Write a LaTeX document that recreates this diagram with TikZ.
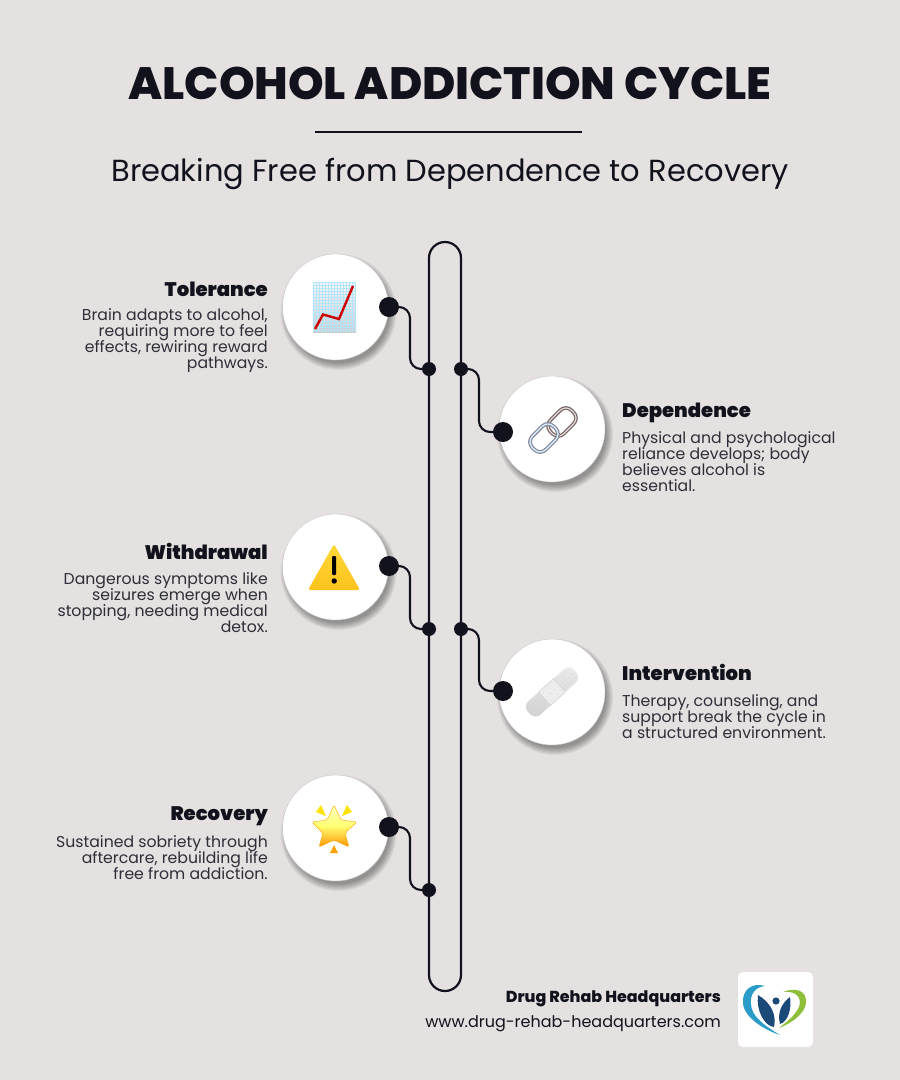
\documentclass[tikz,border=0pt]{standalone}
\usepackage{fontspec}
\setmainfont{Poppins}
\newfontfamily\fblack{Poppins}[UprightFont=* Black]
\newfontfamily\fxbold{Poppins}[UprightFont=* ExtraBold]
\usetikzlibrary{calc}
\definecolor{bgc}{HTML}{E5E1E1}
\definecolor{ink}{HTML}{12121C}
\definecolor{bodyc}{HTML}{2E2E38}
\definecolor{logob}{HTML}{2A9CC8}
\definecolor{logog}{HTML}{8DBF3A}
\definecolor{logon}{HTML}{1B4A78}
\definecolor{warnt}{HTML}{FFD83B}
\definecolor{warnb}{HTML}{FCC21B}
\tikzset{
  headtxt/.style={inner sep=0,font=\fblack\fontsize{19.6}{20}\selectfont,text=ink},
  bodyl/.style={inner sep=0,align=right,anchor=base east,font=\fontsize{15.7}{16}\selectfont,text=bodyc,execute at begin node={\lineskiplimit=-20pt\relax}},
  bodyr/.style={inner sep=0,align=left,anchor=base west,font=\fontsize{15.7}{16}\selectfont,text=bodyc,execute at begin node={\lineskiplimit=-20pt\relax}},
  disc/.style={circle,fill=white,minimum size=106pt,inner sep=0,draw=black!22,line width=.4pt},
  bigdot/.style={circle,fill=ink,minimum size=20pt,inner sep=0},
  smalldot/.style={circle,fill=ink,minimum size=14pt,inner sep=0},
  link/.style={draw=ink,line width=2.1pt,rounded corners=11pt},
}
\newcommand{\softshadow}[2]{%
  \foreach \r in {58,57,56,55,54,53,52,51}{\fill[black,opacity=.05] (#1+3,#2+5) circle (\r);}}
\begin{document}
\begin{tikzpicture}[x=1pt,y=-1pt]
\useasboundingbox (0,0) rectangle (900,1080);
\fill[bgc] (0,0) rectangle (900,1080);
% title
\node[inner sep=0,anchor=base,text=ink,font=\fxbold\fontsize{45.3}{46}\selectfont] (title) at (450,99) {ALCOHOL ADDICTION CYCLE};
\coordinate (ruleA) at (315,132); \coordinate (ruleB) at (582,132);
\draw[ink,line width=2pt] (ruleA) -- (ruleB);
\node[inner sep=0,anchor=base,text=ink,font=\fontsize{30.5}{32}\selectfont] (subtitle) at (450,181) {Breaking Free from Dependence to Recovery};
% shadows and discs
\softshadow{335.5}{307}\softshadow{552}{429}\softshadow{335.5}{567}\softshadow{552}{692}\softshadow{335.5}{828}
\node[disc] (c1) at (335.5,307) {};
\node[disc] (c2) at (552,429) {};
\node[disc] (c3) at (335.5,567) {};
\node[disc] (c4) at (552,692) {};
\node[disc] (c5) at (335.5,828) {};
% loop
\draw[ink,line width=2.2pt,rounded corners=16pt] (429,242) rectangle (461,991);
% dots
\node[bigdot] (b1) at (389,307) {};
\node[bigdot] (b2) at (503,432) {};
\node[bigdot] (b3) at (389,566) {};
\node[bigdot] (b4) at (503,691) {};
\node[bigdot] (b5) at (389,827) {};
\node[smalldot] (s1) at (429,369) {};
\node[smalldot] (s2) at (461,369) {};
\node[smalldot] (s3) at (429,629) {};
\node[smalldot] (s4) at (461,629) {};
\node[smalldot] (s5) at (429,890) {};
% connectors
\draw[link] (b1.center) -| (410,369) -- (s1.center);
\draw[link] (s2.center) -| (479,432) -- (b2.center);
\draw[link] (b3.center) -| (410,629) -- (s3.center);
\draw[link] (s4.center) -| (479,691) -- (b4.center);
\draw[link] (b5.center) -| (410,890) -- (s5.center);
% chart icon
\shade[top color=blue!3!white,bottom color=blue!6!black!20] (313,282) rectangle (356,332);
\foreach \i in {0,3,...,42}{\draw[cyan!30!white,line width=.15pt] (313+\i,282) -- (313+\i,332);}
\foreach \i in {0,3,...,48}{\draw[cyan!30!white,line width=.15pt] (313,282+\i) -- (356,282+\i);}
\draw[red!80!black,line width=2.4pt,line join=miter] (315,329) -- (323,314.5) -- (339,319) -- (353,286);
% chain icon
\foreach \cx/\cy/\oc/\hc in {562/422/{red!20!black!65}/{black!12},544/438/{blue!25!black!45}/{white!85!cyan}}{
  \begin{scope}[shift={(\cx pt,-\cy pt)},rotate=45]
    \draw[black!45,line width=3.8pt,rounded corners=8pt] (-15,-9.5) rectangle (15,9.5);
    \draw[\oc,line width=2.8pt,rounded corners=8pt] (-15,-9.5) rectangle (15,9.5);
    \draw[\hc,line width=1.2pt,rounded corners=8pt] (-15,-9.5) rectangle (15,9.5);
  \end{scope}}
% warning icon
\shade[top color=warnt,bottom color=warnb,rounded corners=2.5pt] (334,544) -- (360,590) -- (308,590) -- cycle;
\fill[black,rounded corners=1pt] (332.2,556) rectangle (336.2,575);
\fill[black] (334.2,581) circle (2.7);
% bandage icon
\begin{scope}[shift={(552pt,-692pt)},rotate=42]
  \shade[top color=black!8,bottom color=black!18,rounded corners=7pt] (-31,-9) rectangle (31,9);
  \fill[black!7] (-10,-9) rectangle (10,9);
  \draw[black!20,line width=.4pt] (-10,-9) rectangle (10,9);
  \foreach \i in {-26,-22,-18,-14,14,18,22,26,-7,-2,3,8}{\foreach \j in {-5,0,5}{\fill[black!25] (\i,\j) circle (.4);}}
\end{scope}
% star icon
\shade[top color=yellow!25!white,bottom color=orange!85!yellow,middle color=yellow!55!white,rounded corners=2pt,draw=orange!70!yellow,line width=.4pt]
  (334,805) -- (341,820) -- (357,822) -- (345,833) -- (349,847) -- (334,840) -- (319,847) -- (323,833) -- (312,822) -- (327,820) -- cycle;
\fill[yellow!85!orange] (316,812) -- (321,805) -- (326,816) -- cycle;
\fill[yellow!85!orange] (352,812) -- (347,805) -- (342,816) -- cycle;
\fill[orange!75!yellow] (334,845) -- (338,853) -- (330,853) -- cycle;
% texts
\node[headtxt,anchor=base east] (t1) at (268,296) {Tolerance};
\node[bodyl] (d1) at (268,368) {Brain adapts to alcohol,\\requiring more to feel\\effects, rewiring reward\\pathways.};
\node[headtxt,anchor=base west] (t2) at (622,417) {Dependence};
\node[bodyr] (d2) at (622,491) {Physical and psychological\\reliance develops; body\\believes alcohol is\\essential.};
\node[headtxt,anchor=base east] (t3) at (268,559) {Withdrawal};
\node[bodyl] (d3) at (268,632) {Dangerous symptoms like\\seizures emerge when\\stopping, needing medical\\detox.};
\node[headtxt,anchor=base west] (t4) at (622,680) {Intervention};
\node[bodyr] (d4) at (622,738) {Therapy, counseling, and\\support break the cycle in\\a structured environment.};
\node[headtxt,anchor=base east] (t5) at (268,820) {Recovery};
\node[bodyl] (d5) at (268,879) {Sustained sobriety through\\aftercare, rebuilding life\\free from addiction.};
% footer
\node[inner sep=0,anchor=base east,text=ink,font=\fxbold\fontsize{15.9}{16}\selectfont] (f1) at (721,1002) {Drug Rehab Headquarters};
\node[inner sep=0,anchor=base east,text=ink,font=\fontsize{16}{16}\selectfont] (f2) at (721,1027) {www.drug-rehab-headquarters.com};
% logo
\fill[white,rounded corners=5pt] (738,972) rectangle (813,1047);
\fill[logob] (765,986) .. controls (752,982) and (742,990) .. (743,1003) .. controls (744,1018) and (765,1030) .. (780,1035) .. controls (765,1026) and (751,1016) .. (751,1004) .. controls (750,993) and (756,987) .. (765,986) -- cycle;
\fill[logog] (783,992) .. controls (795,987) and (807,990) .. (806,1003) .. controls (805,1014) and (790,1024) .. (779,1028) .. controls (788,1021) and (799,1012) .. (800,1003) .. controls (800,994) and (792,991) .. (783,992) -- cycle;
\fill[logon] (776,1001) circle (3.6);
\fill[logon] (758,995) .. controls (756,1010) and (764,1026) .. (774,1027) .. controls (777,1014) and (770,1002) .. (758,995) -- cycle;
\fill[logon] (790,997) .. controls (792,1008) and (788,1022) .. (780,1024) .. controls (777,1012) and (782,1003) .. (790,997) -- cycle;
\end{tikzpicture}
\end{document}
